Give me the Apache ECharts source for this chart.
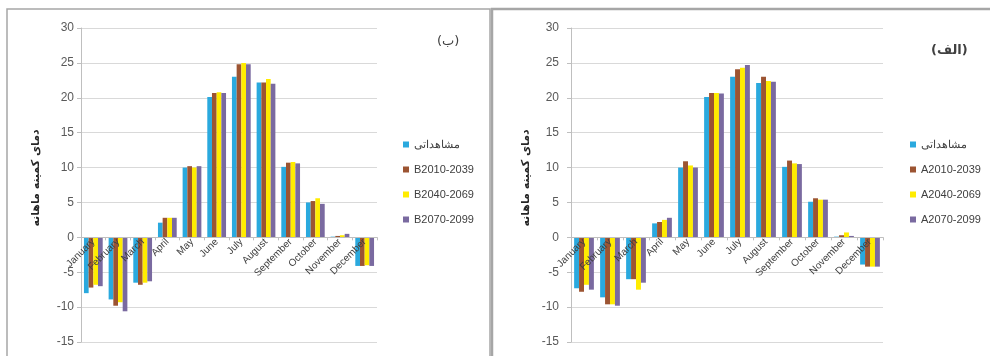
<!DOCTYPE html>
<html>
<head>
<meta charset="utf-8">
<script src="https://cdn.jsdelivr.net/npm/echarts@6/dist/echarts.min.js"></script>
<style>
  html, body { margin: 0; padding: 0; background: #fff; }
  #chart { width: 990px; height: 356px; }
</style>
</head>
<body>
<div id="chart"></div>
<script>
const months = ['January', 'February', 'March', 'April', 'May', 'June', 'July', 'August', 'September', 'October', 'November', 'December'];
const yTicks = { min: -15, max: 30, step: 5 };
const axisTitle = 'دمای کمینه ماهانه';

// panel (ب) - B scenarios
const obsB = [-8.0, -8.9, -6.5, 2.1, 10.0, 20.1, 23.0, 22.2, 10.1, 5.0, 0.1, -4.1];
const b2010 = [-7.2, -9.8, -6.8, 2.8, 10.2, 20.7, 24.8, 22.2, 10.7, 5.2, 0.2, -4.1];
const b2040 = [-6.8, -9.3, -6.5, 2.8, 10.0, 20.8, 25.0, 22.7, 10.8, 5.6, 0.3, -4.0];
const b2070 = [-7.0, -10.6, -6.3, 2.8, 10.2, 20.7, 24.8, 22.0, 10.6, 4.8, 0.5, -4.1];
const namesB = ['مشاهداتی', 'B2010-2039', 'B2040-2069', 'B2070-2099'];

// panel (الف) - A scenarios
const obsA = [-7.3, -8.6, -6.0, 2.0, 10.0, 20.1, 23.0, 22.1, 10.1, 5.1, 0.1, -3.9];
const a2010 = [-7.8, -9.6, -6.0, 2.2, 10.9, 20.7, 24.1, 23.0, 11.0, 5.6, 0.3, -4.2];
const a2040 = [-6.8, -9.6, -7.5, 2.5, 10.3, 20.7, 24.3, 22.4, 10.6, 5.4, 0.7, -4.2];
const a2070 = [-7.5, -9.8, -6.5, 2.8, 10.0, 20.6, 24.7, 22.3, 10.5, 5.4, 0.2, -4.2];
const namesA = ['مشاهداتی', 'A2010-2039', 'A2040-2069', 'A2070-2099'];

const colors = ['#2aa9de', '#9c5432', '#ffec00', '#7a6aa0'];
const font = 'Liberation Sans';
const gridH = 314;
// move the category axis up to the zero line (labels follow it)
const zeroOffset = -gridH * (0 - yTicks.min) / (yTicks.max - yTicks.min);

const chart = echarts.init(document.getElementById('chart'));

function xAxisFor(idx) {
  return {
    type: 'category', gridIndex: idx, data: months, offset: zeroOffset, z: 10,
    axisLine: { onZero: false, lineStyle: { color: '#bfbfbf' } },
    axisTick: { show: true, length: 3, lineStyle: { color: '#bfbfbf' } },
    axisLabel: { rotate: 45, interval: 0, fontSize: 10, color: '#404040', fontFamily: font, margin: 3, hideOverlap: false },
    splitLine: { show: false }
  };
}
function yAxisFor(idx, margin) {
  return {
    type: 'value', gridIndex: idx, min: yTicks.min, max: yTicks.max, interval: yTicks.step,
    axisLine: { show: true, lineStyle: { color: '#bfbfbf' } },
    axisTick: { show: true, length: 4, lineStyle: { color: '#bfbfbf' } },
    axisLabel: { fontSize: 12, color: '#595959', fontFamily: font, margin: margin },
    splitLine: { lineStyle: { color: '#d9d9d9' } }
  };
}
function barsFor(idx, names, data) {
  return data.map((d, i) => ({
    name: names[i], type: 'bar', xAxisIndex: idx, yAxisIndex: idx, data: d,
    barGap: '0%', barCategoryGap: '24%', itemStyle: { color: colors[i] }
  }));
}

const option = {
  animation: false,
  backgroundColor: '#fff',
  color: colors,
  grid: [
    { left: 81, top: 28, width: 296, height: gridH, containLabel: false, outerBoundsMode: 'none' },
    { left: 571, top: 28, width: 312, height: gridH, containLabel: false, outerBoundsMode: 'none' }
  ],
  xAxis: [xAxisFor(0), xAxisFor(1)],
  yAxis: [yAxisFor(0, 7), yAxisFor(1, 12)],
  legend: [
    { data: namesB, orient: 'vertical', left: 398, top: 134, itemWidth: 6, itemHeight: 6, itemGap: 14, icon: 'rect',
      textStyle: { fontSize: 11, color: '#404040', fontFamily: font } },
    { data: namesA, orient: 'vertical', left: 905, top: 134, itemWidth: 6, itemHeight: 6, itemGap: 14, icon: 'rect',
      textStyle: { fontSize: 11, color: '#404040', fontFamily: font } }
  ],
  graphic: [
    { type: 'rect', shape: { x: 7, y: 9, width: 483, height: 360 }, style: { fill: 'none', stroke: '#a6a6a6', lineWidth: 1.5 }, silent: true },
    { type: 'rect', shape: { x: 492, y: 9, width: 520, height: 360 }, style: { fill: 'none', stroke: '#a6a6a6', lineWidth: 2.5 }, silent: true },
    { type: 'text', left: 437, top: 35, style: { text: '(ب)', fontSize: 13, fill: '#404040', fontFamily: 'DejaVu Sans' } },
    { type: 'text', left: 931, top: 44, style: { text: '(الف)', fontSize: 13, fontWeight: 'bold', fill: '#404040', fontFamily: 'DejaVu Sans' } },
    { type: 'text', x: 36, y: 178, rotation: Math.PI / 2, style: { text: axisTitle, fontSize: 11, fontWeight: 'bold', fill: '#262626', fontFamily: 'DejaVu Sans', align: 'center', verticalAlign: 'middle' } },
    { type: 'text', x: 526, y: 178, rotation: Math.PI / 2, style: { text: axisTitle, fontSize: 11, fontWeight: 'bold', fill: '#262626', fontFamily: 'DejaVu Sans', align: 'center', verticalAlign: 'middle' } }
  ],
  series: barsFor(0, namesB, [obsB, b2010, b2040, b2070]).concat(barsFor(1, namesA, [obsA, a2010, a2040, a2070]))
};

chart.setOption(option);
window.addEventListener('resize', function () { chart.resize(); });
</script>
</body>
</html>
